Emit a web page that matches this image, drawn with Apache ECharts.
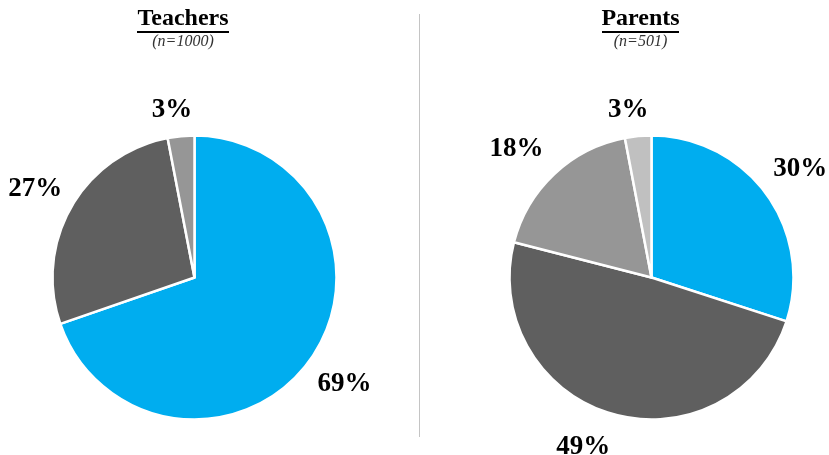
<!DOCTYPE html>
<html>
<head>
<meta charset="utf-8">
<script src="https://cdn.jsdelivr.net/npm/echarts@6/dist/echarts.min.js"></script>
<style>
  html, body { margin: 0; padding: 0; background: #fff; }
  #chart { width: 829px; height: 455px; }
</style>
</head>
<body>
<div id="chart"></div>
<script>
// ---- data ----
var teacherCategories = ['A', 'B', 'C'];
var teacherValues = [69, 27, 3];
var parentCategories = ['A', 'B', 'C', 'D'];
var parentValues = [30, 49, 18, 3];
var teacherColors = ['#00adef', '#5f5f5f', '#969696'];
var parentColors = ['#00adef', '#5f5f5f', '#969696', '#c0c0c0'];
var titles = ['Teachers', 'Parents'];
var subtitles = ['(n=1000)', '(n=501)'];

var SERIF = '"Liberation Serif", "Times New Roman", serif';

function pieData(cats, vals, cols) {
  return vals.map(function (v, i) {
    return { name: cats[i], value: v, itemStyle: { color: cols[i] } };
  });
}
function labelData(cats, vals) {
  return vals.map(function (v, i) { return { name: cats[i], value: v }; });
}

function mainPie(center, cats, vals, cols) {
  return {
    type: 'pie',
    center: center,
    radius: [0, 142],
    startAngle: 90,
    clockwise: true,
    silent: true,
    label: { show: false },
    labelLine: { show: false },
    itemStyle: { borderColor: '#ffffff', borderWidth: 2.5 },
    emphasis: { disabled: true },
    data: pieData(cats, vals, cols)
  };
}

function labelPie(center, cats, vals, nudges) {
  return {
    type: 'pie',
    center: center,
    radius: [0, 362],
    startAngle: 90,
    clockwise: true,
    silent: true,
    z: 5,
    avoidLabelOverlap: false,
    itemStyle: { color: 'transparent', borderWidth: 0 },
    emphasis: { disabled: true },
    label: {
      show: true,
      position: 'inside',
      formatter: '{c}%',
      color: '#000',
      fontFamily: SERIF,
      fontWeight: 'bold',
      fontSize: 27
    },
    labelLine: { show: false },
    labelLayout: function (p) {
      var n = nudges[p.dataIndex];
      return n ? { dx: n[0], dy: n[1] } : {};
    },
    data: labelData(cats, vals)
  };
}

var chart = echarts.init(document.getElementById('chart'), null, { renderer: 'canvas' });

chart.setOption({
  backgroundColor: '#ffffff',
  animation: false,
  series: [
    mainPie([194.5, 277.5], teacherCategories, teacherValues, teacherColors),
    mainPie([651.5, 277.5], parentCategories, parentValues, parentColors),
    labelPie([194.5, 277.5], teacherCategories, teacherValues, { 1: [0, 4], 2: [-5, 16] }),
    labelPie([651.5, 277.5], parentCategories, parentValues, { 1: [-17, -7], 2: [-9, 6], 3: [-6, 16] })
  ],
  graphic: [
    { type: 'text', x: 183, y: 7, style: { text: titles[0], font: 'bold 24px ' + SERIF, fill: '#000', align: 'center', verticalAlign: 'top' } },
    { type: 'rect', shape: { x: 137, y: 31, width: 92, height: 2 }, style: { fill: '#000' } },
    { type: 'text', x: 183, y: 34, style: { text: subtitles[0], font: 'italic 16px ' + SERIF, fill: '#333', align: 'center', verticalAlign: 'top' } },
    { type: 'text', x: 640.5, y: 7, style: { text: titles[1], font: 'bold 24px ' + SERIF, fill: '#000', align: 'center', verticalAlign: 'top' } },
    { type: 'rect', shape: { x: 602, y: 31, width: 77, height: 2 }, style: { fill: '#000' } },
    { type: 'text', x: 640.5, y: 34, style: { text: subtitles[1], font: 'italic 16px ' + SERIF, fill: '#333', align: 'center', verticalAlign: 'top' } },
    { type: 'rect', shape: { x: 419, y: 14, width: 1, height: 423 }, style: { fill: '#c4c4c4' } }
  ]
});
</script>
</body>
</html>
